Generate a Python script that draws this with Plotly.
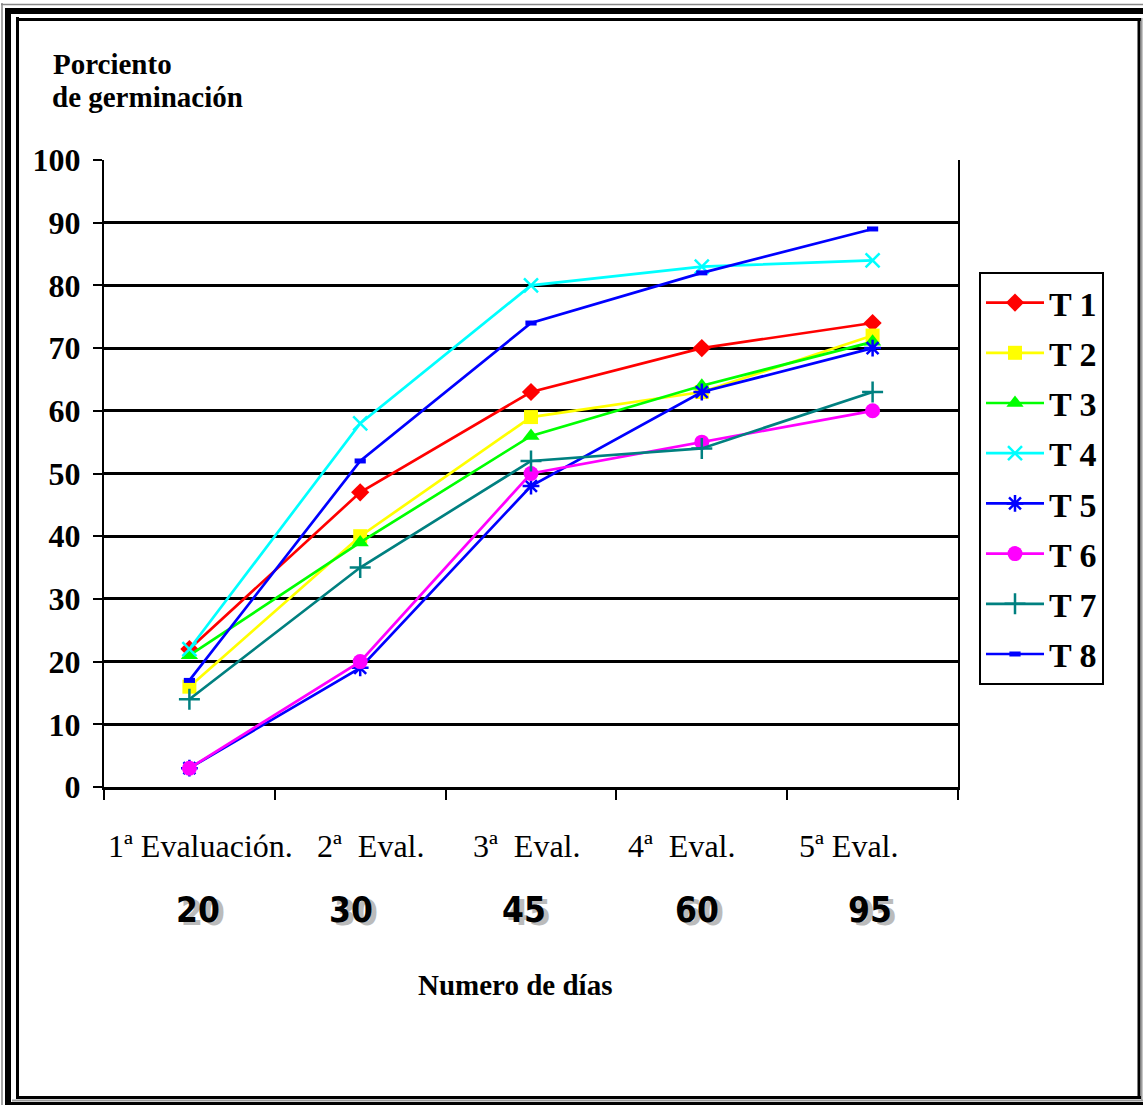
import plotly.graph_objects as go

# ---- data ----
categories = ["1ª Evaluación.", "2ª  Eval.", "3ª  Eval.", "4ª  Eval.", "5ª Eval."]
days = ["20", "30", "45", "60", "95"]
series_names = ["T 1", "T 2", "T 3", "T 4", "T 5", "T 6", "T 7", "T 8"]
t1 = [22, 47, 63, 70, 74]
t2 = [16, 40, 59, 63, 72]
t3 = [21, 39, 56, 64, 71]
t4 = [22, 58, 80, 83, 84]
t5 = [3, 19, 48, 63, 70]
t6 = [3, 20, 50, 55, 60]
t7 = [14, 35, 52, 54, 63]
t8 = [17, 52, 74, 82, 89]
y_ticks = [0, 10, 20, 30, 40, 50, 60, 70, 80, 90, 100]
y_title_lines = ["Porciento", "de germinación"]
x_title = "Numero de días"

# ---- styles ----
W, H = 1143, 1105
L, R, T, B = 104, 958, 160, 787
styles = [
    dict(color="#FF0000", symbol="diamond", size=14, lw=0),
    dict(color="#FFFF00", symbol="square", size=14, lw=0),
    dict(color="#00FF00", symbol="triangle-up", size=15, lw=0),
    dict(color="#00FFFF", symbol="x-thin-open", size=14, lw=2.5),
    dict(color="#0000FF", symbol="asterisk-open", size=14, lw=2.5),
    dict(color="#FF00FF", symbol="circle", size=15, lw=0),
    dict(color="#008080", symbol="cross-thin-open", size=15, lw=2.5),
    dict(color="#0000FF", symbol="line-ew-open", size=8, lw=5),
]

def px(x):
    return (x - L) / (R - L)

def py(y):
    return (B - y) / (B - T)

SERIF = "Liberation Serif, Times New Roman, serif"
NARROW = "DejaVu Sans Condensed, Liberation Sans Narrow, Arial Narrow, sans-serif"

fig = go.Figure()
all_series = [t1, t2, t3, t4, t5, t6, t7, t8]
xidx = list(range(len(categories)))
for name, vals, st in zip(series_names, all_series, styles):
    fig.add_trace(go.Scatter(
        x=xidx, y=vals, name=name, mode="lines+markers",
        legendgroup=name,
        line=dict(color=st["color"], width=2.7),
        marker=dict(symbol=st["symbol"], size=st["size"], color=st["color"],
                    line=dict(color=st["color"], width=st["lw"])),
    ))

annotations = []
cat_shift = [11, 10, -5, -20, -24]
day_shift = [9, -9, -7, -5, -3]
for i, (c, d) in enumerate(zip(categories, days)):
    annotations.append(dict(x=i, y=py(846), xref="x", yref="paper", text=c, showarrow=False,
                            xshift=cat_shift[i], xanchor="center", yanchor="middle",
                            font=dict(family=SERIF, size=32, color="black")))
    annotations.append(dict(x=i, y=py(910), xref="x", yref="paper", text=d, showarrow=False,
                            xshift=day_shift[i], xanchor="center", yanchor="middle",
                            font=dict(family=NARROW, size=35, color="black", weight="bold",
                                      shadow="5px 3px 0px #BBBBBB")))

annotations.append(dict(x=px(51), y=py(64), xref="paper", yref="paper", text=y_title_lines[0],
                        showarrow=False, xanchor="left", yanchor="middle",
                        font=dict(family=SERIF, size=29, color="black", weight="bold")))
annotations.append(dict(x=px(50), y=py(97), xref="paper", yref="paper", text=y_title_lines[1],
                        showarrow=False, xanchor="left", yanchor="middle",
                        font=dict(family=SERIF, size=29, color="black", weight="bold")))
annotations.append(dict(x=px(515), y=py(985), xref="paper", yref="paper", text=x_title,
                        showarrow=False, xanchor="center", yanchor="middle",
                        font=dict(family=SERIF, size=29, color="black", weight="bold")))

shapes = []
def vline(x, y0, y1, w, color="black"):
    shapes.append(dict(type="line", xref="paper", yref="paper", x0=px(x), x1=px(x),
                       y0=py(y0), y1=py(y1), line=dict(color=color, width=w), layer="above"))

def hline(y, x0, x1, w, color="black"):
    shapes.append(dict(type="line", xref="paper", yref="paper", x0=px(x0), x1=px(x1),
                       y0=py(y), y1=py(y), line=dict(color=color, width=w), layer="above"))

# outer double frame
vline(2, 3, 1105, 1.5, "#888888")
hline(4.5, 1, 1143, 1.5, "#888888")
vline(8, 8, 1105, 6)
hline(11, 5, 1143, 6)
vline(17.5, 17, 1099, 3)
hline(19.5, 16, 1141, 3)
vline(1139, 18, 1099, 3)
vline(1141.8, 18, 1101, 1.5, "#999999")
hline(1097.5, 16, 1141, 3)
hline(1100.5, 12, 1143, 2, "#999999")
hline(1104, 5, 1143, 4)

fig.update_layout(
    width=W, height=H,
    margin=dict(l=L, r=W - R, t=T, b=H - B, pad=0),
    paper_bgcolor="white", plot_bgcolor="white",
    showlegend=True,
    legend=dict(x=px(979), y=py(272), xanchor="left", yanchor="top",
                bordercolor="black", borderwidth=2, bgcolor="white",
                font=dict(family=SERIF, size=34, color="black", weight="bold"),
                tracegroupgap=3, itemwidth=58, traceorder="grouped"),
    xaxis=dict(type="linear", range=[-0.5, 4.5], tickmode="array",
               tickvals=[-0.5, 0.5, 1.5, 2.5, 3.5, 4.5], showticklabels=False,
               ticks="outside", ticklen=10, tickwidth=2, tickcolor="black",
               showgrid=False, zeroline=False,
               showline=True, linecolor="black", linewidth=3, mirror=False),
    yaxis=dict(range=[0, 100], tickmode="array", tickvals=y_ticks,
               ticktext=[str(v) for v in y_ticks],
               ticks="outside", ticklen=9, tickwidth=2, tickcolor="black",
               tickfont=dict(family=SERIF, size=32, color="black", weight="bold"),
               ticklabelstandoff=6,
               showgrid=True, gridcolor="black", gridwidth=2.5, zeroline=False,
               showline=True, linecolor="black", linewidth=2, mirror=True),
    annotations=annotations,
    shapes=shapes,
)

fig.write_html("out.html")
